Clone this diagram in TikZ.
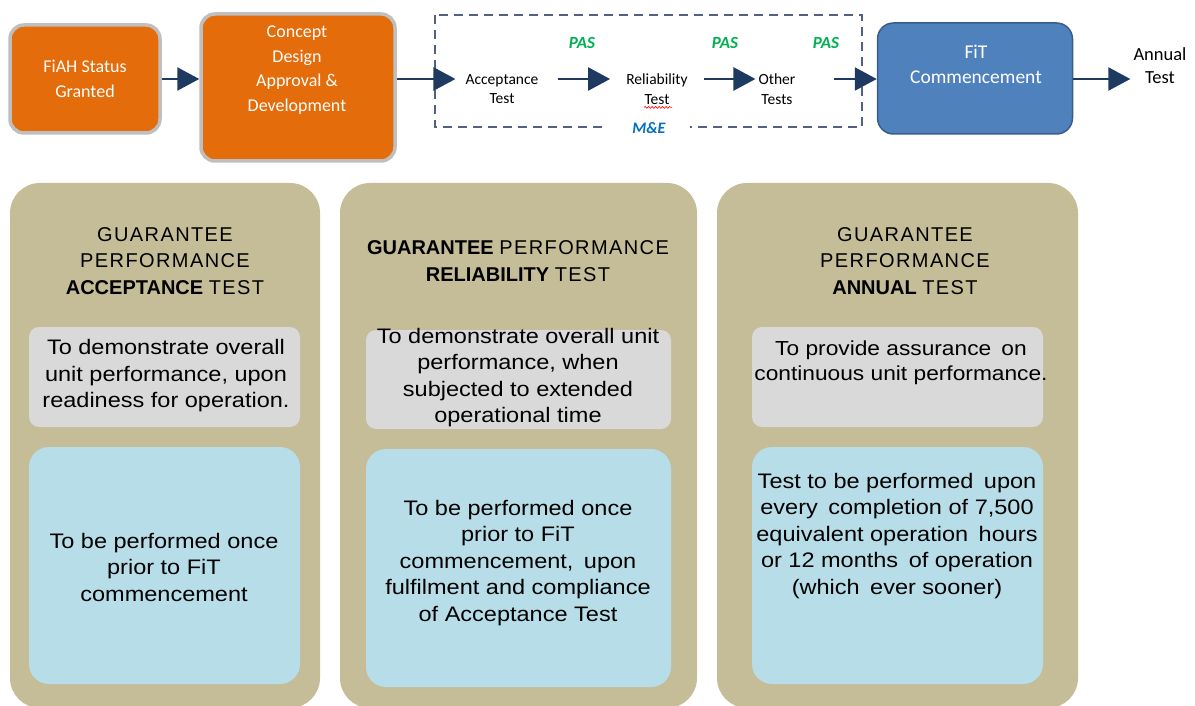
\documentclass[tikz,border=0pt]{standalone}
\usepackage{fontspec}
\setmainfont{Liberation Sans}
\newfontfamily\calfont{Carlito}
\newfontfamily\widefont{Liberation Sans}[LetterSpace=7]
\newfontfamily\bodyfont{Liberation Sans}[FakeStretch=1.12]
\usetikzlibrary{arrows.meta, decorations.pathmorphing}

\definecolor{orangebg}{HTML}{E46C0A}
\definecolor{greyline}{HTML}{BFBFBF}
\definecolor{navyline}{HTML}{1F3A60}
\definecolor{dashline}{HTML}{4F6282}
\definecolor{fitbg}{HTML}{4F81BD}
\definecolor{fitline}{HTML}{385D8A}
\definecolor{pasgreen}{HTML}{00B050}
\definecolor{mecolor}{HTML}{0070C0}
\definecolor{tanbg}{HTML}{C4BD97}
\definecolor{greybg}{HTML}{D9D9D9}
\definecolor{bluebg}{HTML}{B7DEE8}

\newcommand{\spc}[1]{{\widefont #1}}

\begin{document}
\begin{tikzpicture}[x=1pt, y=-1pt, >={Triangle[length=22pt, width=23pt]},
	orangebox/.style={draw=greyline, line width=3.5pt, fill=orangebg, rounded corners=14pt},
	fitbox/.style={draw=fitline, line width=1.5pt, fill=fitbg, rounded corners=16pt},
	boxtext/.style={text=white, align=center, font=\calfont\fontsize{18}{24.5}\selectfont},
	steptext/.style={align=center, inner sep=0pt, font=\calfont\fontsize{15.5}{19.5}\selectfont},
	flow/.style={->, draw=navyline, line width=2.5pt},
	pas/.style={text=pasgreen, font=\calfont\bfseries\itshape\fontsize{17}{18}\selectfont},
	panel/.style={fill=tanbg, rounded corners=30pt},
	greybox/.style={fill=greybg, rounded corners=10pt},
	bluebox/.style={fill=bluebg, rounded corners=20pt},
	title/.style={align=center, font=\fontsize{20}{26.5}\selectfont},
	body/.style={align=center, font=\bodyfont\fontsize{21}{26.5}\selectfont}]

		\useasboundingbox (0,0) rectangle (1195,706);
		\coordinate (row) at (0,79);

		% верхний ряд
		\node[orangebox, boxtext, minimum width=150pt, minimum height=108pt] (fiah) at (85,79) {FiAH Status\\Granted};
		\node[orangebox, minimum width=194pt, minimum height=147pt] (concept) at (298,87.5) {};
		\node[boxtext] (concepttxt) at (297,70) {Concept\\Design\\Approval \&\\Development};

		\draw[dashline, line width=1.8pt, dash pattern=on 9pt off 6pt] (435,15) rectangle (862,127);
		\node[fill=white, inner xsep=24pt, inner ysep=1pt, text=mecolor, font=\calfont\bfseries\itshape\fontsize{16}{17}\selectfont] (me) at (649,128) {M\&E};

		\node[steptext] (acc) at (502,89) {Acceptance\\Test};
		\node[steptext] (rel) at (657,89) {Reliability\\Test};
		\node[steptext] (oth) at (777,89) {Other\\Tests};
		\draw[red, line width=0.6pt, decorate, decoration={snake, amplitude=1pt, segment length=3.5pt}]
			([xshift=-13pt, yshift=-3pt]rel.south) -- ([xshift=15pt, yshift=-3pt]rel.south);

		\foreach \x/\n in {582/pasa, 725/pasb, 826/pasc} {
				\node[pas] (\n) at (\x,43) {PAS};
			}

		\node[fitbox, minimum width=195pt, minimum height=111pt] (fit) at (975,78.5) {};
		\node[boxtext, font=\calfont\fontsize{19.5}{25}\selectfont] (fittxt) at (976,64.5) {FiT\\Commencement};
		\node[steptext, font=\calfont\fontsize{18.5}{23}\selectfont] (annual) at (1160,66) {Annual\\Test};

		\draw[flow] (fiah.east |- row) -- (concept.west |- row);
		\draw[flow, shorten >=10pt] (concept.east |- row) -- (acc.west |- row);
		\draw[flow, shorten <=19pt, shorten >=16pt] (acc.east |- row) -- (rel.west |- row);
		\draw[flow, shorten <=16pt, shorten >=3pt] (rel.east |- row) -- (oth.west |- row);
		\draw[flow, shorten <=38pt] (oth.east |- row) -- (fit.west |- row);
		\draw[flow, shorten >=3pt] (fit.east |- row) -- (annual.west |- row);

		% три колонки
		\foreach \xa/\xb in {10/320, 340/697, 717/1078} {
				\fill[panel] (\xa,183) rectangle (\xb,708);
			}
		\foreach \xa/\xb/\ya/\yb in {
				29/300/327/427,
				366/671/330/429,
				752/1043/327/427
			} {
				\fill[greybox] (\xa,\ya) rectangle (\xb,\yb);
			}
		\foreach \xa/\xb/\ya/\yb in {
				29/300/447/684,
				366/671/449/687,
				752/1043/447/684
			} {
				\fill[bluebox] (\xa,\ya) rectangle (\xb,\yb);
			}

		\node[title] (accttl) at (165,261) {\spc{GUARANTEE}\\\spc{PERFORMANCE}\\\textbf{ACCEPTANCE} \spc{TEST}};
		\node[title] (relttl) at (518,261) {\textbf{GUARANTEE} \spc{PERFORMANCE}\\\textbf{RELIABILITY} \spc{TEST}};
		\node[title] (annttl) at (905,261) {\spc{GUARANTEE}\\\spc{PERFORMANCE}\\\textbf{ANNUAL} \spc{TEST}};

		\node[body] (accaim) at (166,376) {To demonstrate overall\\unit performance, upon\\readiness for operation.};
		\node[body] (accwhen) at (164,567) {To be performed once\\prior to FiT\\commencement};
		\node[body] (relaim) at (518,377.5) {To demonstrate overall unit\\performance, when\\subjected to extended\\operational time};
		\node[body] (relwhen) at (518,563) {To be performed once\\prior to FiT\\commencement,\enspace upon\\fulfilment and compliance\\of Acceptance Test};
		\node[body, font=\bodyfont\fontsize{20.3}{25.5}\selectfont] (annaim) at (901,363) {To provide assurance\enspace on\\continuous unit performance.};
		\node[body] (annwhen) at (897,536) {Test to be performed\enspace upon\\every\enspace completion of 7,500\\equivalent operation\enspace hours\\or 12 months\enspace of operation\\(which\enspace ever sooner)};
	\end{tikzpicture}
\end{document}
